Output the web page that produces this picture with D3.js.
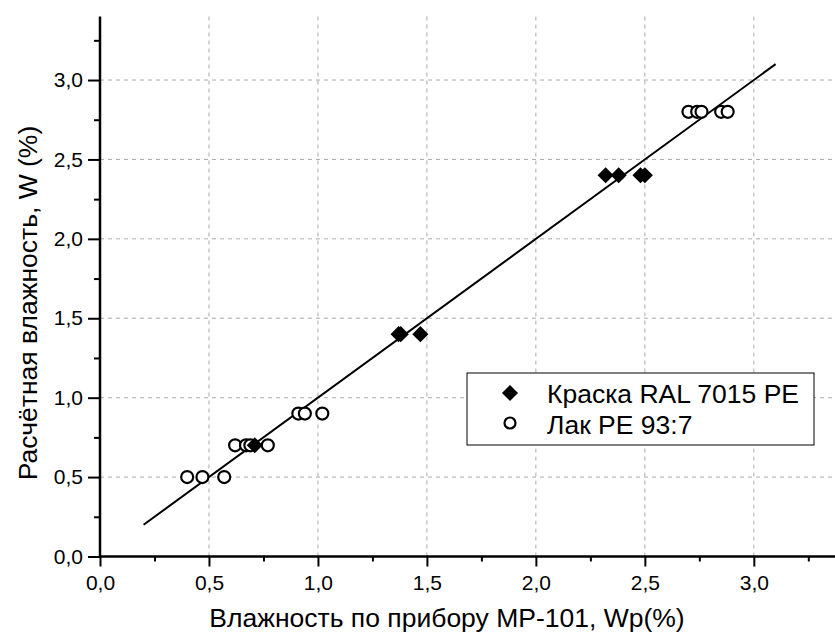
<!DOCTYPE html>
<html>
<head>
<meta charset="utf-8">
<script src="https://cdn.jsdelivr.net/npm/d3@7"></script>
<style>
body { margin: 0; background: #fff; }
text { font-family: "Liberation Sans", Arial, sans-serif; }
</style>
</head>
<body>
<script>
// Краска RAL 7015 PE
var paintX = [0.71, 1.37, 1.38, 1.47, 2.32, 2.38, 2.48, 2.50];
var paintY = [0.7, 1.4, 1.4, 1.4, 2.4, 2.4, 2.4, 2.4];
// Лак PE 93:7
var lacX = [0.40, 0.47, 0.57, 0.62, 0.67, 0.69, 0.77, 0.91, 0.94, 1.02, 2.70, 2.74, 2.76, 2.85, 2.88];
var lacY = [0.5, 0.5, 0.5, 0.7, 0.7, 0.7, 0.7, 0.9, 0.9, 0.9, 2.8, 2.8, 2.8, 2.8, 2.8];
// fit line W = Wp
var fitX = [0.2, 3.1];
var fitY = [0.2, 3.1];
var majorTicks = [0, 0.5, 1.0, 1.5, 2.0, 2.5, 3.0];
var minorTicks = [0.25, 0.75, 1.25, 1.75, 2.25, 2.75, 3.25];
var seriesNames = ["Краска RAL 7015 PE", "Лак PE 93:7"];

var W = 835, H = 635;
var svg = d3.select("body").append("svg").attr("width", W).attr("height", H);

var x = d3.scaleLinear().domain([0, 3.4]).range([100, 841]);
var y = d3.scaleLinear().domain([0, 3.4]).range([556.5, 16.5]);
var fmt = d3.formatLocale({decimal: ",", thousands: " ", grouping: [3], currency: ["", ""]}).format(".1f");

// grid
svg.append("g").selectAll("line").data(majorTicks.slice(1)).enter().append("line")
  .attr("x1", function(d){ return x(d); }).attr("x2", function(d){ return x(d); })
  .attr("y1", y(3.4)).attr("y2", y(0))
  .attr("stroke", "#aaa").attr("stroke-width", 1).attr("stroke-dasharray", "4,4");
svg.append("g").selectAll("line").data(majorTicks.slice(1)).enter().append("line")
  .attr("y1", function(d){ return y(d); }).attr("y2", function(d){ return y(d); })
  .attr("x1", x(0)).attr("x2", W)
  .attr("stroke", "#aaa").attr("stroke-width", 1).attr("stroke-dasharray", "4,4");

// axes
var xAxis = svg.append("g").attr("transform", "translate(0," + y(0) + ")")
  .call(d3.axisBottom(x).tickValues(majorTicks).tickFormat(fmt).tickSize(10).tickPadding(9));
svg.append("g").attr("transform", "translate(0," + y(0) + ")")
  .call(d3.axisBottom(x).tickValues(minorTicks).tickFormat("").tickSize(5))
  .select(".domain").remove();
var yAxis = svg.append("g").attr("transform", "translate(" + x(0) + ",0)")
  .call(d3.axisLeft(y).tickValues(majorTicks).tickFormat(fmt).tickSize(12).tickPadding(5));
svg.append("g").attr("transform", "translate(" + x(0) + ",0)")
  .call(d3.axisLeft(y).tickValues(minorTicks).tickFormat("").tickSize(6))
  .select(".domain").remove();
svg.selectAll(".domain").attr("stroke-width", 2.5).attr("stroke", "#000");
svg.selectAll(".tick line").attr("stroke-width", 2).attr("stroke", "#000");
svg.selectAll(".tick text").attr("font-size", 21).attr("fill", "#000")
  .style("font-family", "Liberation Sans, Arial, sans-serif");
xAxis.selectAll(".domain").attr("d", "M" + x(0) + ",0H" + W);
yAxis.selectAll(".domain").attr("d", "M0," + y(0) + "V" + y(3.4));

// fit line
svg.append("line")
  .attr("x1", x(fitX[0])).attr("y1", y(fitY[0]))
  .attr("x2", x(fitX[1])).attr("y2", y(fitY[1]))
  .attr("stroke", "#000").attr("stroke-width", 2);

var diamond = d3.symbol().type(d3.symbolDiamond2).size(165);

// circles
svg.append("g").selectAll("circle").data(lacX).enter().append("circle")
  .attr("cx", function(d){ return x(d); })
  .attr("cy", function(d, i){ return y(lacY[i]); })
  .attr("r", 6).attr("fill", "#fff").attr("stroke", "#000").attr("stroke-width", 2.2);

// diamonds
svg.append("g").selectAll("path").data(paintX).enter().append("path")
  .attr("d", diamond)
  .attr("transform", function(d, i){ return "translate(" + x(d) + "," + y(paintY[i]) + ")"; })
  .attr("fill", "#000");

// legend
var lg = svg.append("g");
lg.append("rect").attr("x", 467).attr("y", 373).attr("width", 347).attr("height", 72)
  .attr("fill", "#fff").attr("stroke", "#000").attr("stroke-width", 1);
lg.append("path").attr("d", diamond).attr("transform", "translate(510,393)").attr("fill", "#000");
lg.append("circle").attr("cx", 510).attr("cy", 423).attr("r", 5.5)
  .attr("fill", "#fff").attr("stroke", "#000").attr("stroke-width", 2.2);
lg.selectAll("text").data(seriesNames).enter().append("text")
  .attr("x", 547).attr("y", function(d, i){ return 403 + i * 31; })
  .attr("font-size", 26.5).attr("fill", "#000").text(function(d){ return d; });

// axis titles
svg.append("text").attr("x", 447).attr("y", 627).attr("text-anchor", "middle")
  .attr("font-size", 26.5).text("Влажность по прибору MP-101, Wp(%)");
svg.append("text").attr("transform", "translate(37,303) rotate(-90)").attr("text-anchor", "middle")
  .attr("font-size", 26.5).text("Расчётная влажность, W (%)");
</script>
</body>
</html>
